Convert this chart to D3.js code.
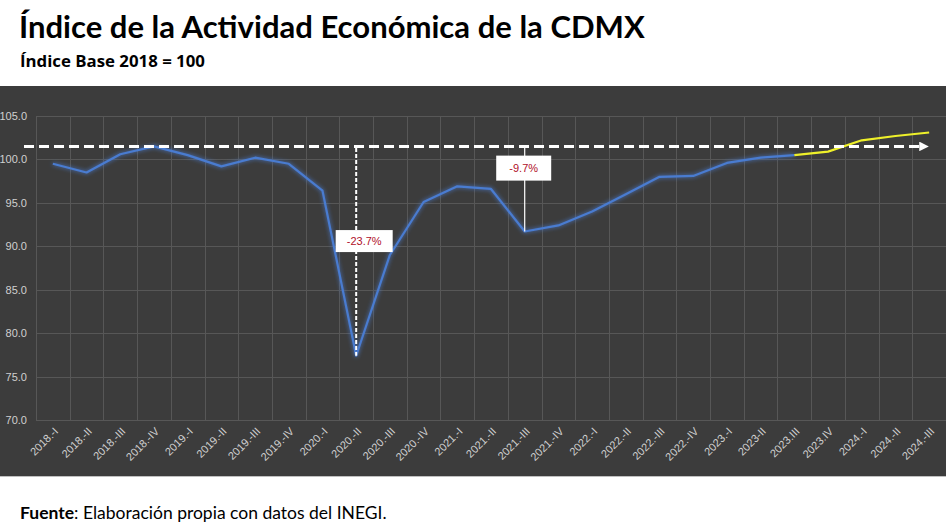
<!DOCTYPE html>
<html>
<head>
<meta charset="utf-8">
<script src="https://cdn.jsdelivr.net/npm/d3@7"></script>
<style>
  html, body { margin: 0; padding: 0; background: #ffffff; }
  svg { display: block; }
</style>
</head>
<body>
<svg id="chart" width="946" height="523"></svg>
<script>
// ---------------- DATA ----------------
const categories = ["2018.-I","2018.-II","2018.-III","2018.-IV","2019.-I","2019.-II","2019.-III","2019.-IV",
  "2020.-I","2020.-II","2020.-III","2020.-IV","2021.-I","2021.-II","2021.-III","2021.-IV",
  "2022.-I","2022.-II","2022.-III","2022.-IV","2023.-I","2023-II","2023.III","2023.IV",
  "2024.-I","2024.-II","2024.-III"];
const values = [99.5, 98.5, 100.6, 101.5, 100.5, 99.2, 100.2, 99.5,
  96.4, 77.4, 89.0, 95.1, 96.9, 96.6, 91.7, 92.4,
  94.0, 96.0, 98.0, 98.1, 99.6, 100.2, 100.5, 100.9,
  102.2, 102.7, 103.1];
const observedEnd = "2023.III";           // blue series up to here, yellow after
const yTicks = [70, 75, 80, 85, 90, 95, 100, 105];
const refValue = 101.5;                    // 2018.-IV peak
const annotCategories = ["2020.-II", "2021.-III"];
const annotLabels = ["-23.7%", "-9.7%"];
const annotLabelValues = [90.6, 99.0];
const annotDashed = [true, false];

const titleText = "Índice de la Actividad Económica de la CDMX";
const subtitleText = "Índice Base 2018 = 100";
const sourceBold = "Fuente";
const sourceRest = ": Elaboración propia con datos del INEGI.";

// ---------------- LAYOUT ----------------
const W = 946, H = 523;
const svg = d3.select("#chart");
const panel = {x: 0, y: 86, w: 946, h: 390};
const plot = {left: 36, right: 946, top: 116, bottom: 420};

const defs = svg.append("defs");
const glow = defs.append("filter").attr("id", "glow")
  .attr("x", "-10%").attr("y", "-10%").attr("width", "120%").attr("height", "120%");
glow.append("feGaussianBlur").attr("in", "SourceGraphic").attr("stdDeviation", 2.2).attr("result", "b");
const fm = glow.append("feMerge");
fm.append("feMergeNode").attr("in", "b");
fm.append("feMergeNode").attr("in", "SourceGraphic");

defs.append("marker").attr("id", "arrow")
  .attr("viewBox", "0 0 10 10").attr("refX", 2).attr("refY", 5)
  .attr("markerWidth", 3.2).attr("markerHeight", 3.2).attr("orient", "auto")
  .append("path").attr("d", "M0,0 L10,5 L0,10 Z").attr("fill", "#ffffff");

function fitText(sel, target) {
  const len = sel.node().getComputedTextLength();
  const fs = parseFloat(sel.attr("font-size"));
  sel.attr("font-size", fs * target / len);
}

// Titles
const title = svg.append("text").attr("x", 19).attr("y", 38)
  .attr("font-family", "Lato, 'Noto Sans', sans-serif").attr("font-size", 28)
  .attr("font-weight", 700).attr("fill", "#000").text(titleText);
fitText(title, 626);

const subtitle = svg.append("text").attr("x", 20).attr("y", 67)
  .attr("font-family", "'Open Sans', 'Liberation Sans', sans-serif").attr("font-size", 17)
  .attr("font-weight", 700).attr("fill", "#000").text(subtitleText);
fitText(subtitle, 185);

// Panel
svg.append("rect").attr("x", panel.x).attr("y", panel.y).attr("width", panel.w).attr("height", panel.h)
  .attr("fill", "#3c3c3c");
svg.append("line").attr("x1", 0).attr("x2", W).attr("y1", panel.y + panel.h + 0.5).attr("y2", panel.y + panel.h + 0.5)
  .attr("stroke", "#bfbfbf").attr("stroke-width", 1);

// Scales
const x = d3.scaleBand().domain(categories).range([plot.left, plot.right]).padding(0);
const y = d3.scaleLinear().domain([70, 105]).range([plot.bottom, plot.top]);
const cx = c => x(c) + x.bandwidth() / 2;

// Grid
const g = svg.append("g");
g.selectAll(".hg").data(yTicks).join("line")
  .attr("x1", plot.left).attr("x2", plot.right)
  .attr("y1", d => Math.round(y(d)) + 0.5).attr("y2", d => Math.round(y(d)) + 0.5)
  .attr("stroke", "#575757").attr("stroke-width", 1);
const vb = categories.map(c => x(c)).concat([plot.right]);
g.selectAll(".vg").data(vb).join("line")
  .attr("x1", d => Math.round(d) + 0.5).attr("x2", d => Math.round(d) + 0.5)
  .attr("y1", plot.top).attr("y2", plot.bottom)
  .attr("stroke", "#575757").attr("stroke-width", 1);

// Y axis
const yAxis = d3.axisLeft(y).tickValues(yTicks).tickFormat(d3.format(".1f")).tickSize(0).tickPadding(0);
const ya = svg.append("g").attr("transform", `translate(${plot.left - 9},0)`).call(yAxis);
ya.select(".domain").remove();
ya.selectAll("text").attr("font-family", "'Liberation Sans', Arial, sans-serif").attr("font-size", 11)
  .attr("fill", "#d0d0d0");

// X axis
const xAxis = d3.axisBottom(x).tickSize(0).tickPadding(0);
const xa = svg.append("g").attr("transform", `translate(0,${plot.bottom})`).call(xAxis);
xa.select(".domain").remove();
xa.selectAll("text")
  .attr("font-family", "'Liberation Sans', Arial, sans-serif").attr("font-size", 11)
  .attr("fill", "#d0d0d0")
  .attr("text-anchor", "end").attr("dy", 0)
  .attr("transform", "translate(6,12) rotate(-45)");

// Data series
const pts = categories.map((c, i) => ({c, v: values[i]}));
const endIdx = categories.indexOf(observedEnd);
const line = d3.line().x(d => cx(d.c)).y(d => y(d.v));
svg.append("path").datum(pts.slice(0, endIdx + 1)).attr("d", line)
  .attr("fill", "none").attr("stroke", "#4a7bd0").attr("stroke-width", 2.2)
  .attr("stroke-linejoin", "round").attr("filter", "url(#glow)");
svg.append("path").datum(pts.slice(endIdx)).attr("d", line)
  .attr("fill", "none").attr("stroke", "#eef02a").attr("stroke-width", 2.2)
  .attr("stroke-linejoin", "round");

// Reference dashed arrow line
svg.append("line")
  .attr("x1", plot.left - 12).attr("x2", cx(categories[categories.length - 1]) - 8)
  .attr("y1", y(refValue)).attr("y2", y(refValue))
  .attr("stroke", "#ffffff").attr("stroke-width", 3).attr("stroke-dasharray", "10,5")
  .attr("marker-end", "url(#arrow)");

// Annotations
annotCategories.forEach((c, i) => {
  const v = values[categories.indexOf(c)];
  svg.append("line")
    .attr("x1", cx(c)).attr("x2", cx(c))
    .attr("y1", y(refValue) + 1.5).attr("y2", y(v))
    .attr("stroke", "#ffffff").attr("stroke-width", annotDashed[i] ? 2 : 1.2)
    .attr("stroke-dasharray", annotDashed[i] ? "4,2" : null);
  const lx = cx(c) + (annotDashed[i] ? 8 : -1);
  const ly = y(annotLabelValues[i]);
  const bw = annotDashed[i] ? 57 : 55, bh = annotDashed[i] ? 22 : 25;
  svg.append("rect").attr("x", lx - bw / 2).attr("y", ly - bh / 2).attr("width", bw).attr("height", bh)
    .attr("fill", "#ffffff");
  svg.append("text").attr("x", lx).attr("y", ly).attr("dy", "0.35em")
    .attr("text-anchor", "middle")
    .attr("font-family", "'Liberation Sans', Arial, sans-serif").attr("font-size", 11)
    .attr("fill", "#b0102a").text(annotLabels[i]);
});

// Source
const src = svg.append("text").attr("x", 20).attr("y", 519)
  .attr("font-family", "Lato, 'Noto Sans', sans-serif").attr("font-size", 16).attr("fill", "#000");
src.append("tspan").attr("font-weight", 700).text(sourceBold);
src.append("tspan").text(sourceRest);
fitText(src, 367);
</script>
</body>
</html>
